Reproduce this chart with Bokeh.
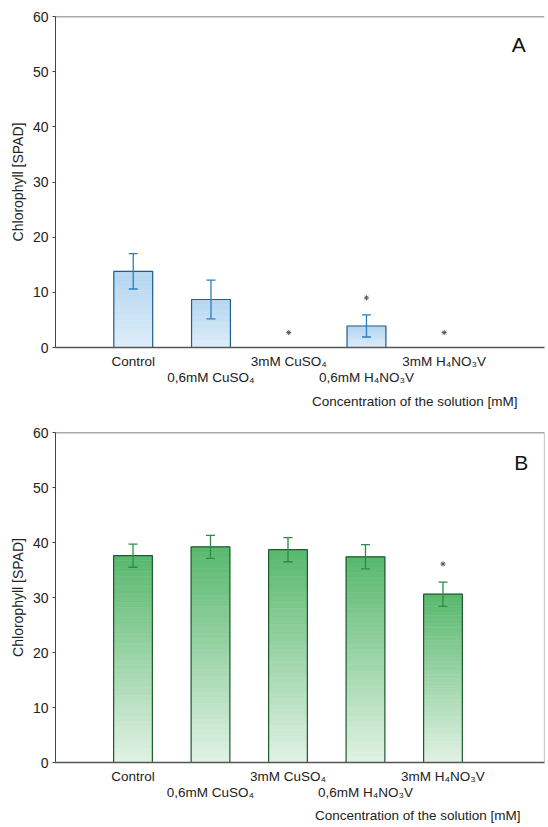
from bokeh.plotting import figure
from bokeh.models import (ColumnDataSource, Range1d, FixedTicker, LinearAxis,
                          Whisker, TeeHead, Span, Label, Title)
from bokeh.layouts import column
from bokeh.embed import file_html
from bokeh.resources import INLINE

# ---- data ----
categories = ["Control", "0,6mM CuSO₄", "3mM CuSO₄", "0,6mM H₄NO₃V", "3mM H₄NO₃V"]
a_values = [13.8, 8.7, 0.0, 3.9, 0.0]
a_errors = [3.2, 3.5, 0.0, 2.0, 0.0]
a_stars = [None, None, 2.7, 9.0, 2.7]
b_values = [37.6, 39.2, 38.7, 37.4, 30.6]
b_errors = [2.1, 2.1, 2.2, 2.2, 2.2]
b_stars = [None, None, None, None, 36.1]
y_ticks = [0, 10, 20, 30, 40, 50, 60]
x_label = "Concentration of the solution [mM]"
y_label = "Chlorophyll [SPAD]"

FONT = "Liberation Sans"
TXT = "#222222"


def hex2rgb(h):
    h = h.lstrip("#")
    return tuple(int(h[i:i + 2], 16) for i in (0, 2, 4))


def lerp(c1, c2, t):
    a, b = hex2rgb(c1), hex2rgb(c2)
    return "#%02x%02x%02x" % tuple(int(round(a[i] + (b[i] - a[i]) * t)) for i in range(3))


def panel(values, errors, stars, letter, x_end, top_c, bot_c, edge_c, err_c,
          width, height, b_left, b_top, b_bottom, b_right, right_line,
          title_offset, title_standoff, letter_xy):
    xs = list(range(1, len(categories) + 1))
    p = figure(width=width, height=height, output_backend="svg", toolbar_location=None,
               x_range=Range1d(0, x_end), y_range=Range1d(0, 60),
               x_axis_location=None, min_border_left=b_left, min_border_right=b_right,
               min_border_top=b_top, min_border_bottom=b_bottom)
    p.outline_line_color = None
    p.grid.grid_line_color = None
    p.background_fill_color = "white"

    # gradient bars (slices from bottom to value)
    n = 40
    gx, gb, gt, gc = [], [], [], []
    for x, v in zip(xs, values):
        if v <= 0:
            continue
        for i in range(n):
            gx.append(x)
            gb.append(v * i / n)
            gt.append(v * (i + 1) / n)
            gc.append(lerp(bot_c, top_c, (i + 0.5) / n))
    p.vbar(x=gx, bottom=gb, top=gt, width=0.5, fill_color=gc, line_color=gc, line_width=0.6)
    bx = [x for x, v in zip(xs, values) if v > 0]
    bv = [v for v in values if v > 0]
    p.vbar(x=bx, top=bv, bottom=0, width=0.5, fill_color=None, line_color=edge_c, line_width=1.2)

    # error bars
    ex = [x for x, v in zip(xs, values) if v > 0]
    eu = [v + e for v, e in zip(values, errors) if v > 0]
    el = [v - e for v, e in zip(values, errors) if v > 0]
    src = ColumnDataSource(dict(x=ex, upper=eu, lower=el))
    p.add_layout(Whisker(source=src, base="x", upper="upper", lower="lower",
                         level="overlay",
                         line_color=err_c, line_width=1.3,
                         upper_head=TeeHead(size=9, line_color=err_c, line_width=1.3),
                         lower_head=TeeHead(size=9, line_color=err_c, line_width=1.3)))

    # significance stars
    sx = [x for x, s in zip(xs, stars) if s is not None]
    sy = [s for s in stars if s is not None]
    p.scatter(sx, sy, marker="asterisk", size=5, line_color="#555555", line_width=1)

    # frame lines
    p.add_layout(Span(location=60, dimension="width", line_color="#555555", line_width=1.3))
    if right_line:
        p.add_layout(Span(location=x_end, dimension="height", line_color="#999999", line_width=1.2))

    # y axis
    ya = p.yaxis[0]
    ya.ticker = FixedTicker(ticks=y_ticks)
    ya.axis_label = y_label
    ya.axis_label_text_font = FONT
    ya.axis_label_text_font_size = "14px"
    ya.axis_label_text_font_style = "normal"
    ya.axis_label_text_color = TXT
    ya.axis_label_standoff = 4
    ya.major_label_text_font = FONT
    ya.major_label_text_font_size = "14px"
    ya.major_label_text_color = TXT
    ya.major_label_standoff = 4
    ya.major_tick_in = 0
    ya.major_tick_out = 3
    ya.minor_tick_line_color = None
    ya.axis_line_color = "#444444"
    ya.major_tick_line_color = "#444444"

    # staggered category labels: two stacked x axes
    odd = [x for x in xs if x % 2 == 1]
    even = [x for x in xs if x % 2 == 0]
    ax1 = LinearAxis(ticker=FixedTicker(ticks=odd),
                     major_label_overrides={x: categories[x - 1] for x in odd})
    ax2 = LinearAxis(ticker=FixedTicker(ticks=even),
                     major_label_overrides={x: categories[x - 1] for x in even})
    for ax in (ax1, ax2):
        ax.major_tick_line_color = None
        ax.minor_tick_line_color = None
        ax.major_tick_out = 0
        ax.major_tick_in = 0
        ax.major_label_text_font = FONT
        ax.major_label_text_font_size = "13.5px"
        ax.major_label_text_color = TXT
    ax1.axis_line_color = "#555555"
    ax1.axis_line_width = 1.3
    ax1.major_label_standoff = 6
    ax2.axis_line_color = None
    ax2.major_label_standoff = -2
    p.add_layout(ax1, "below")
    p.add_layout(ax2, "below")

    p.add_layout(Title(text=x_label, align="right", offset=title_offset,
                       standoff=title_standoff,
                       text_font=FONT, text_font_size="13.5px", text_font_style="normal",
                       text_color=TXT), "below")

    p.add_layout(Label(x=letter_xy[0], y=letter_xy[1], text=letter, text_font=FONT,
                       text_font_size="21px", text_align="center", text_baseline="middle",
                       text_color="#111111"))
    return p


pa = panel(a_values, a_errors, a_stars, "A", 6.29,
           "#b3d5f0", "#deedf9", "#1f5f8f", "#2a7fc0",
           width=548, height=420, b_left=55, b_top=16, b_bottom=73, b_right=0,
           right_line=False, title_offset=27, title_standoff=8, letter_xy=(5.96, 55))
pb = panel(b_values, b_errors, b_stars, "B", 6.31,
           "#58b86d", "#e2f2e5", "#1e5a2c", "#2e8b45",
           width=548, height=407, b_left=51, b_top=12, b_bottom=65, b_right=4,
           right_line=True, title_offset=24, title_standoff=6, letter_xy=(6.01, 54.5))

layout = column(pa, pb, spacing=0)
open("out.html", "w").write(file_html(layout, INLINE))
